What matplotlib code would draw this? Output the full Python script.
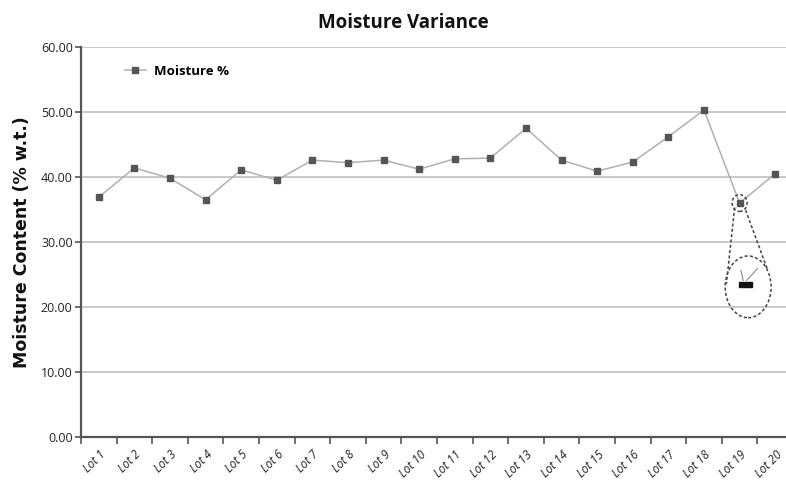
import matplotlib
matplotlib.use("Agg")
import matplotlib.pyplot as plt
from matplotlib.patches import Ellipse, Rectangle
from matplotlib.lines import Line2D

lots = [f"Lot {i}" for i in range(1, 21)]
moisture = [36.9, 41.4, 39.8, 36.5, 41.1, 39.5, 42.6, 42.2, 42.6, 41.2,
            42.8, 42.9, 47.5, 42.6, 40.9, 42.3, 46.2, 50.3, 36.0, 40.5]
yticks = [0, 10, 20, 30, 40, 50, 60]

fig = plt.figure(figsize=(7.86, 4.86), dpi=100)
ax = fig.add_axes([81/786, 1-437/486, 712/786, 390/486])

x = list(range(len(lots)))
ax.plot(x, moisture, color="#b0b0b0", lw=1.1, marker="s", ms=3.8,
        mfc="#555555", mec="#555555", label="Moisture %", zorder=3)

ax.set_xlim(-0.5, 19.5)
ax.set_ylim(0, 60)
ax.set_yticks(yticks)
ax.set_yticklabels([f"{v:.2f}" for v in yticks], fontsize=9,
                   family="Open Sans", color="#222222")
ax.yaxis.grid(True, color="#c0c0c0", lw=1.2)
ax.set_axisbelow(True)

ax.set_xticks([i + 0.5 for i in range(-1, 20)], minor=False)
ax.set_xticklabels([""] * 21)
ax.set_xticks(x, minor=True)
ax.set_xticklabels(lots, minor=True, rotation=45, ha="right",
                   rotation_mode="anchor", fontsize=8.5, style="italic",
                   family="Open Sans", color="#222222")
ax.tick_params(axis="x", which="minor", length=0, pad=8)
ax.tick_params(axis="x", which="major", length=5, width=1.2, color="#555555", direction="out")
ax.tick_params(axis="y", length=4, width=1.2, color="#555555", direction="out", pad=2)

for s in ["top", "right"]:
    ax.spines[s].set_visible(False)
for s in ["left", "bottom"]:
    ax.spines[s].set_color("#555555")
    ax.spines[s].set_linewidth(1.6)

ax.set_ylabel("Moisture Content (% w.t.)", fontsize=12.5, fontweight="bold",
              family="DejaVu Sans", labelpad=7, color="#111111")
fig.text(0.513, 0.953, "Moisture Variance", ha="center", va="center",
         fontsize=13.5, fontweight="bold", family="Open Sans", color="#111111")

leg = ax.legend(loc="upper left", bbox_to_anchor=(0.045, 0.985), frameon=False,
                prop={"family": "Open Sans", "weight": "bold", "size": 9.5},
                handlelength=1.6, handletextpad=0.6)

# annotation: dashed callout around Lot 19
dash = dict(fill=False, ls=(0, (2, 1.5)), lw=1.1, ec="#444444", zorder=4)
ax.add_patch(Ellipse((18.0, 36.0), 0.42, 2.6, **dash))
ax.add_patch(Ellipse((18.24, 23.1), 1.29, 9.5, **dash))
ax.add_line(Line2D([17.86, 17.63], [35.3, 23.6], ls=(0, (2, 1.5)), lw=1.1, color="#444444", zorder=4))
ax.add_line(Line2D([18.17, 18.78], [34.9, 25.8], ls=(0, (2, 1.5)), lw=1.1, color="#444444", zorder=4))
ax.add_patch(Rectangle((17.98, 23.1), 0.36, 0.8, color="#111111", zorder=5))
ax.add_line(Line2D([18.1, 18.04], [24.1, 25.6], lw=0.8, color="#888888", zorder=5))
ax.add_line(Line2D([18.2, 18.5], [24.1, 25.9], lw=0.8, color="#888888", zorder=5))

fig.savefig("out.png", dpi=100)
